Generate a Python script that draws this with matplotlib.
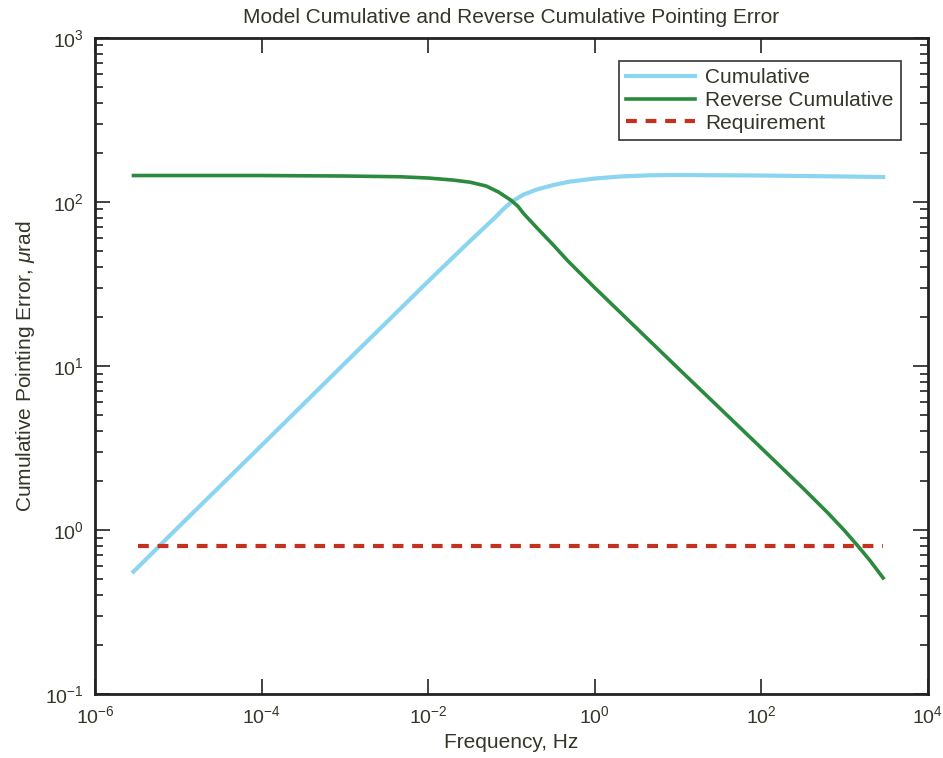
import matplotlib
matplotlib.use('Agg')
import matplotlib.pyplot as plt
import matplotlib.ticker as mtick

# values
cum_freq = [2.9e-6, 1e-5, 1e-4, 1e-3, 1e-2, 3.2e-2, 6.3e-2, 7.9e-2, 1e-1, 1.2e-1,
            1.4e-1, 2e-1, 3.2e-1, 5e-1, 1, 2, 4.6, 10, 100, 1000, 2900]
cum_val = [0.557, 1.04, 3.28, 10.4, 32.8, 58, 80, 90, 100, 106,
           111, 119, 127, 133, 139, 143, 145.5, 146, 145, 143, 142]

rev_freq = [2.9e-6, 1e-4, 1e-3, 4.6e-3, 1e-2, 2e-2, 3.2e-2, 5e-2, 7e-2, 1e-1,
            1.2e-1, 1.4e-1, 2e-1, 3.2e-1, 4.7e-1, 1, 10, 100, 316, 630,
            1000, 1410, 2000, 2900]
rev_val = [145, 145, 144, 142.5, 140, 136, 132, 125, 115, 102,
           94, 85, 70, 54.5, 44, 30, 9.7, 3.16, 1.80, 1.27,
           0.99, 0.81, 0.655, 0.51]

req_freq = [3.3e-6, 2900]
req_val = [0.8, 0.8]

x_ticks = [1e-6, 1e-4, 1e-2, 1e0, 1e2, 1e4]
y_ticks = [1e-1, 1e0, 1e1, 1e2, 1e3]

txt = '#35352a'
plt.rcParams['font.family'] = ['Liberation Sans', 'DejaVu Sans']
plt.rcParams['mathtext.fontset'] = 'custom'
plt.rcParams['mathtext.rm'] = 'Liberation Sans'
plt.rcParams['mathtext.it'] = 'Liberation Sans:italic'
plt.rcParams['mathtext.default'] = 'regular'

fig = plt.figure(figsize=(9.43, 7.58), dpi=100)
ax = fig.add_axes([0.1007, 0.0844, 0.8833, 0.8655])

ax.plot(cum_freq, cum_val, color='#8bd5f3', lw=3.0, label='Cumulative')
ax.plot(rev_freq, rev_val, color='#2b8a3e', lw=2.6, label='Reverse Cumulative')
ax.plot(req_freq, req_val, color='#c4321f', lw=3.0, dashes=(2.6, 2.1),
        label='Requirement')

ax.set_xscale('log')
ax.set_yscale('log')
ax.set_xlim(1e-6, 1e4)
ax.set_ylim(1e-1, 1e3)

ax.xaxis.set_major_locator(mtick.FixedLocator(x_ticks))
ax.xaxis.set_minor_locator(mtick.NullLocator())
ax.yaxis.set_major_locator(mtick.FixedLocator(y_ticks))
ax.yaxis.set_minor_locator(mtick.LogLocator(base=10, subs=range(2, 10)))
ax.yaxis.set_minor_formatter(mtick.NullFormatter())

ax.tick_params(which='both', direction='in', top=True, right=True,
               colors='#222222', labelcolor=txt, labelsize=14)
ax.tick_params(which='major', length=11, width=1.2, pad=8)
ax.tick_params(which='minor', length=6, width=1.2)

for s in ax.spines.values():
    s.set_linewidth(2)
    s.set_color('#222222')

ax.set_title('Model Cumulative and Reverse Cumulative Pointing Error',
             fontsize=15, color=txt, pad=11)
ax.set_xlabel('Frequency, Hz', fontsize=15, color=txt, labelpad=4)
ax.set_ylabel('Cumulative Pointing Error, $\\mathit{\\mu}$rad', fontsize=15,
              color=txt, labelpad=6)

leg = ax.legend(loc='upper right', bbox_to_anchor=(0.9676, 0.965),
                borderaxespad=0, fontsize=15, fancybox=False, framealpha=1,
                edgecolor='#333333', handlelength=3.3, handletextpad=0.5,
                labelspacing=0.18, borderpad=0.35)
leg.get_frame().set_linewidth(1.2)
for t in leg.get_texts():
    t.set_color(txt)

fig.savefig('out.png', dpi=100)
